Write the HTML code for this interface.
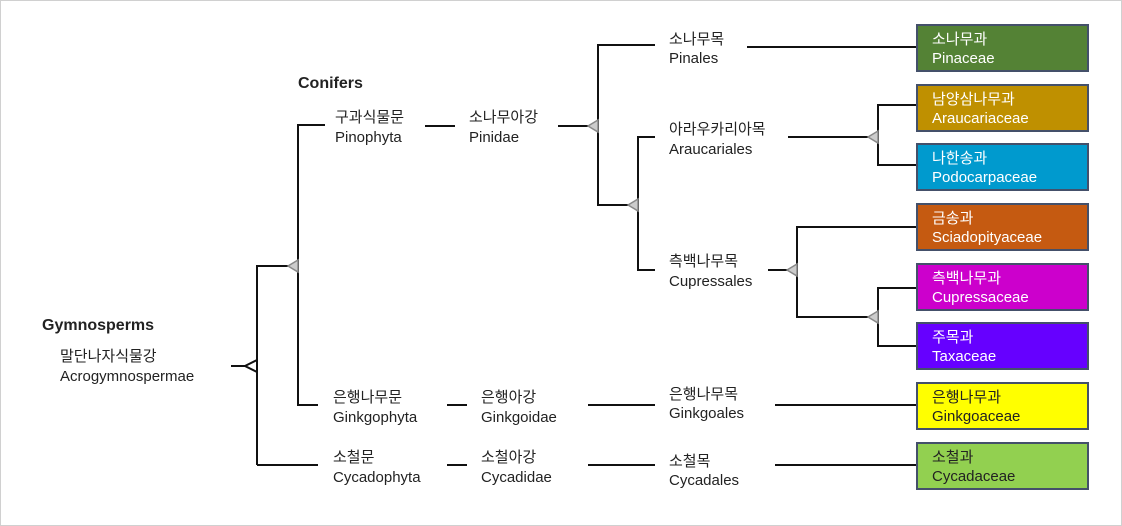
<!DOCTYPE html>
<html><head><meta charset="utf-8"><style>
html,body{margin:0;padding:0;background:#fff}
svg{display:block}
text{font-family:"Liberation Sans","Noto Sans CJK KR",sans-serif;font-size:15px;fill:#222}
.w{fill:#fff}
.b{font-weight:bold;font-size:16px}
</style></head><body>
<svg width="1122" height="526" viewBox="0 0 1122 526" xmlns="http://www.w3.org/2000/svg">
<rect x="0.5" y="0.5" width="1121" height="525" fill="#fff" stroke="#d0d0d0"/>
<g stroke="#111" stroke-width="2" fill="none">
<path d="M231 366H246"/>
<path d="M257 465V266H298"/>
<path d="M318 405H298V125H325"/>
<path d="M257 465H318"/>
<path d="M425 126H455"/><path d="M447 405H467"/><path d="M447 465H467"/>
<path d="M558 126H598"/>
<path d="M655 45H598V205H638"/>
<path d="M655 137H638V270H655"/>
<path d="M588 405H655"/><path d="M588 465H655"/>
<path d="M747 47H917"/>
<path d="M788 137H878"/>
<path d="M917 105H878V165H917"/>
<path d="M768 270H797"/>
<path d="M917 227H797V317H878"/>
<path d="M917 288H878V346H917"/>
<path d="M775 405H917"/><path d="M775 465H917"/>
</g>
<g fill="#ccc" stroke="#888" stroke-width="1.5">
<path d="M298 260L288 266L298 272Z"/>
<path d="M598 120L588 126L598 132Z"/>
<path d="M638 199L628 205L638 211Z"/>
<path d="M878 131L868 137L878 143Z"/>
<path d="M797 264L787 270L797 276Z"/>
<path d="M878 311L868 317L878 323Z"/>
</g>
<path d="M257 360L245 366L257 372Z" fill="#fff" stroke="#111" stroke-width="2"/>
<g stroke="#44506a" stroke-width="2">
<rect x="917" y="25" width="171" height="46" fill="#548235"/>
<rect x="917" y="85" width="171" height="46" fill="#bf9000"/>
<rect x="917" y="144" width="171" height="46" fill="#009ace"/>
<rect x="917" y="204" width="171" height="46" fill="#c55a11"/>
<rect x="917" y="264" width="171" height="46" fill="#cc00cc"/>
<rect x="917" y="323" width="171" height="46" fill="#6600ff"/>
<rect x="917" y="383" width="171" height="46" fill="#ffff00"/>
<rect x="917" y="443" width="171" height="46" fill="#92d050"/>
</g>
<text x="932" y="44" class="w">소나무과</text><text x="932" y="63" class="w">Pinaceae</text>
<text x="932" y="104" class="w">남양삼나무과</text><text x="932" y="123" class="w">Araucariaceae</text>
<text x="932" y="163" class="w">나한송과</text><text x="932" y="182" class="w">Podocarpaceae</text>
<text x="932" y="223" class="w">금송과</text><text x="932" y="242" class="w">Sciadopityaceae</text>
<text x="932" y="283" class="w">측백나무과</text><text x="932" y="302" class="w">Cupressaceae</text>
<text x="932" y="342" class="w">주목과</text><text x="932" y="361" class="w">Taxaceae</text>
<text x="932" y="402">은행나무과</text><text x="932" y="421">Ginkgoaceae</text>
<text x="932" y="462">소철과</text><text x="932" y="481">Cycadaceae</text>

<text x="42" y="330" class="b">Gymnosperms</text>
<text x="60" y="361">말단나자식물강</text><text x="60" y="381">Acrogymnospermae</text>
<text x="298" y="88" class="b">Conifers</text>
<text x="335" y="122">구과식물문</text><text x="335" y="142">Pinophyta</text>
<text x="469" y="122">소나무아강</text><text x="469" y="142">Pinidae</text>
<text x="669" y="44">소나무목</text><text x="669" y="63">Pinales</text>
<text x="669" y="134">아라우카리아목</text><text x="669" y="154">Araucariales</text>
<text x="669" y="266">측백나무목</text><text x="669" y="286">Cupressales</text>
<text x="333" y="402">은행나무문</text><text x="333" y="422">Ginkgophyta</text>
<text x="481" y="402">은행아강</text><text x="481" y="422">Ginkgoidae</text>
<text x="669" y="399">은행나무목</text><text x="669" y="418">Ginkgoales</text>
<text x="333" y="462">소철문</text><text x="333" y="482">Cycadophyta</text>
<text x="481" y="462">소철아강</text><text x="481" y="482">Cycadidae</text>
<text x="669" y="466">소철목</text><text x="669" y="485">Cycadales</text>
</svg>
</body></html>
